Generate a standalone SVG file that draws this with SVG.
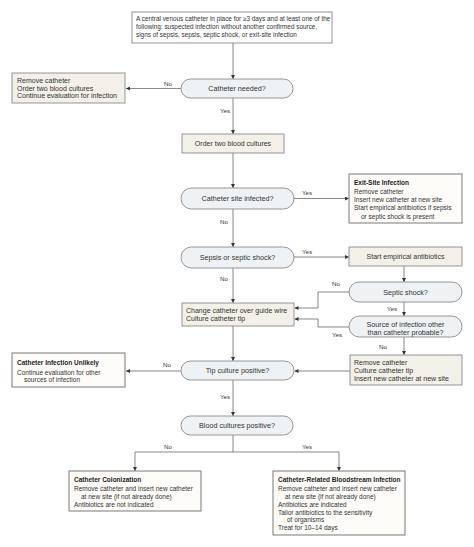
<svg xmlns="http://www.w3.org/2000/svg" width="474" height="547" viewBox="0 0 474 547">
<defs>
<marker id="ah" viewBox="0 0 6 6" refX="6" refY="3" markerWidth="4" markerHeight="4" orient="auto" markerUnits="userSpaceOnUse">
<path d="M0,0 L6,3 L0,6 z" fill="#333"/>
</marker>
<style>
text{font-family:"Liberation Sans",Arial,sans-serif;font-size:7px;fill:#333}
.t{font-size:6.4px}
.p{font-size:7.2px}
.o{font-size:6.5px}
.c{text-anchor:middle}
.b{font-weight:bold;fill:#222;font-size:6.5px}
.lbl{font-size:6.2px;text-anchor:middle}
.pill{fill:#eef2f5;stroke:#8a8a8a;stroke-width:0.9}
.act{fill:#f3f0e9;stroke:#8a8a8a;stroke-width:0.9}
.top{fill:#ffffff;stroke:#8a8a8a;stroke-width:0.9}
.out{fill:#fdfcf9;stroke:#7a7a7a;stroke-width:1}
.cn{fill:none;stroke:#555;stroke-width:0.7}
</style>
</defs>
<rect width="474" height="547" fill="#ffffff"/>

<g id="connectors">
<path class="cn" d="M233,43 V79" marker-end="url(#ah)"/>
<path class="cn" d="M181,88.5 H126" marker-end="url(#ah)"/>
<path class="cn" d="M233,98 V134" marker-end="url(#ah)"/>
<path class="cn" d="M233,153 V188" marker-end="url(#ah)"/>
<path class="cn" d="M294,198.5 H349" marker-end="url(#ah)"/>
<path class="cn" d="M233,209 V247" marker-end="url(#ah)"/>
<path class="cn" d="M294,257 H349" marker-end="url(#ah)"/>
<path class="cn" d="M404,266 V282" marker-end="url(#ah)"/>
<path class="cn" d="M349,292 H318 V308 H294.5" marker-end="url(#ah)"/>
<path class="cn" d="M404,302 V316" marker-end="url(#ah)"/>
<path class="cn" d="M349,327 H318 V319 H294.5" marker-end="url(#ah)"/>
<path class="cn" d="M233,268 V303" marker-end="url(#ah)"/>
<path class="cn" d="M233,326 V361" marker-end="url(#ah)"/>
<path class="cn" d="M404,337 V355" marker-end="url(#ah)"/>
<path class="cn" d="M350,371 H294.5" marker-end="url(#ah)"/>
<path class="cn" d="M181,371 H126" marker-end="url(#ah)"/>
<path class="cn" d="M233,380 V416" marker-end="url(#ah)"/>
<path class="cn" d="M233,435 V452"/>
<path class="cn" d="M135,452 H339"/>
<path class="cn" d="M135,452 V471" marker-end="url(#ah)"/>
<path class="cn" d="M339,452 V471" marker-end="url(#ah)"/>
<text class="lbl" x="168" y="86">No</text>
<text class="lbl" x="225" y="113">Yes</text>
<text class="lbl" x="307" y="195">Yes</text>
<text class="lbl" x="224" y="224">No</text>
<text class="lbl" x="307" y="254">Yes</text>
<text class="lbl" x="224" y="281">No</text>
<text class="lbl" x="336" y="286">No</text>
<text class="lbl" x="392" y="311">Yes</text>
<text class="lbl" x="337" y="337">Yes</text>
<text class="lbl" x="383" y="349">No</text>
<text class="lbl" x="167" y="367">No</text>
<text class="lbl" x="225" y="399">Yes</text>
<text class="lbl" x="168" y="449">No</text>
<text class="lbl" x="307" y="449">Yes</text>
</g>

<g id="start">
<rect class="top" x="132" y="12" width="200" height="31"/>
<text class="t" x="136" y="21">A central venous catheter in place for ≥3 days and at least one of the</text>
<text class="t" x="136" y="29">following: suspected infection without another confirmed source,</text>
<text class="t" x="136" y="37">signs of sepsis, sepsis, septic shock, or exit-site infection</text>
</g>

<g id="catheter-needed">
<rect class="pill" x="181" y="79" width="112" height="19" rx="9.5"/>
<text class="c p" x="237" y="91">Catheter needed?</text>
</g>

<g id="remove-order">
<rect class="act" x="12" y="73" width="113" height="30"/>
<text x="17" y="83">Remove catheter</text>
<text x="17" y="90.5">Order two blood cultures</text>
<text x="17" y="98">Continue evaluation for infection</text>
</g>

<g id="order-cultures">
<rect class="act" x="182" y="134" width="102" height="19"/>
<text class="c" x="233" y="145.5">Order two blood cultures</text>
</g>

<g id="site-infected">
<rect class="pill" x="181" y="188" width="113" height="21" rx="10.5"/>
<text class="c p" x="237.5" y="201">Catheter site infected?</text>
</g>

<g id="exit-site">
<rect class="out" x="349" y="174" width="113" height="49"/>
<text class="b" x="354" y="184.5">Exit-Site Infection</text>
<text class="o" x="354" y="194">Remove catheter</text>
<text class="o" x="354" y="202">Insert new catheter at new site</text>
<text class="o" x="354" y="210">Start empirical antibiotics if sepsis</text>
<text class="o" x="361" y="218.5">or septic shock is present</text>
</g>

<g id="sepsis">
<rect class="pill" x="181" y="247" width="113" height="21" rx="10.5"/>
<text class="c p" x="237.5" y="259.5">Sepsis or septic shock?</text>
</g>

<g id="start-antibiotics">
<rect class="act" x="349" y="247" width="113" height="19"/>
<text class="c" x="405.5" y="259">Start empirical antibiotics</text>
</g>

<g id="septic-shock">
<rect class="pill" x="349" y="282" width="113" height="20" rx="10"/>
<text class="c p" x="405.5" y="294.5">Septic shock?</text>
</g>

<g id="source-other">
<rect class="pill" x="349" y="316" width="113" height="21" rx="10.5"/>
<text class="c p" x="405.5" y="327">Source of infection other</text>
<text class="c p" x="405.5" y="335">than catheter probable?</text>
</g>

<g id="change-catheter">
<rect class="act" x="182" y="303" width="112" height="23"/>
<text x="186" y="313">Change catheter over guide wire</text>
<text x="186" y="321">Culture catheter tip</text>
</g>

<g id="remove-culture">
<rect class="act" x="350" y="355" width="112" height="30"/>
<text x="354" y="364.5">Remove catheter</text>
<text x="354" y="372.5">Culture catheter tip</text>
<text x="354" y="380.5">Insert new catheter at new site</text>
</g>

<g id="tip-culture">
<rect class="pill" x="181" y="361" width="113" height="19" rx="9.5"/>
<text class="c p" x="237.5" y="373">Tip culture positive?</text>
</g>

<g id="unlikely">
<rect class="out" x="12" y="353" width="113" height="34"/>
<text class="b" x="17" y="364.5">Catheter Infection Unlikely</text>
<text class="o" x="17" y="374.5">Continue evaluation for other</text>
<text class="o" x="24" y="382">sources of infection</text>
</g>

<g id="blood-cultures">
<rect class="pill" x="181" y="416" width="112" height="19" rx="9.5"/>
<text class="c p" x="237" y="428">Blood cultures positive?</text>
</g>

<g id="colonization">
<rect class="out" x="69" y="471" width="132" height="40"/>
<text class="b" x="74" y="481.5">Catheter Colonization</text>
<text class="o" x="74" y="491">Remove catheter and insert new catheter</text>
<text class="o" x="81" y="499">at new site (if not already done)</text>
<text class="o" x="74" y="506.5">Antibiotics are not indicated</text>
</g>

<g id="crbsi">
<rect class="out" x="273" y="471" width="132" height="64"/>
<text class="b" x="278" y="481.5">Catheter-Related Bloodstream Infection</text>
<text class="o" x="278" y="491">Remove catheter and insert new catheter</text>
<text class="o" x="285" y="499">at new site (if not already done)</text>
<text class="o" x="278" y="506.5">Antibiotics are indicated</text>
<text class="o" x="278" y="514.5">Tailor antibiotics to the sensitivity</text>
<text class="o" x="287" y="522">of organisms</text>
<text class="o" x="278" y="530">Treat for 10–14 days</text>
</g>
</svg>
